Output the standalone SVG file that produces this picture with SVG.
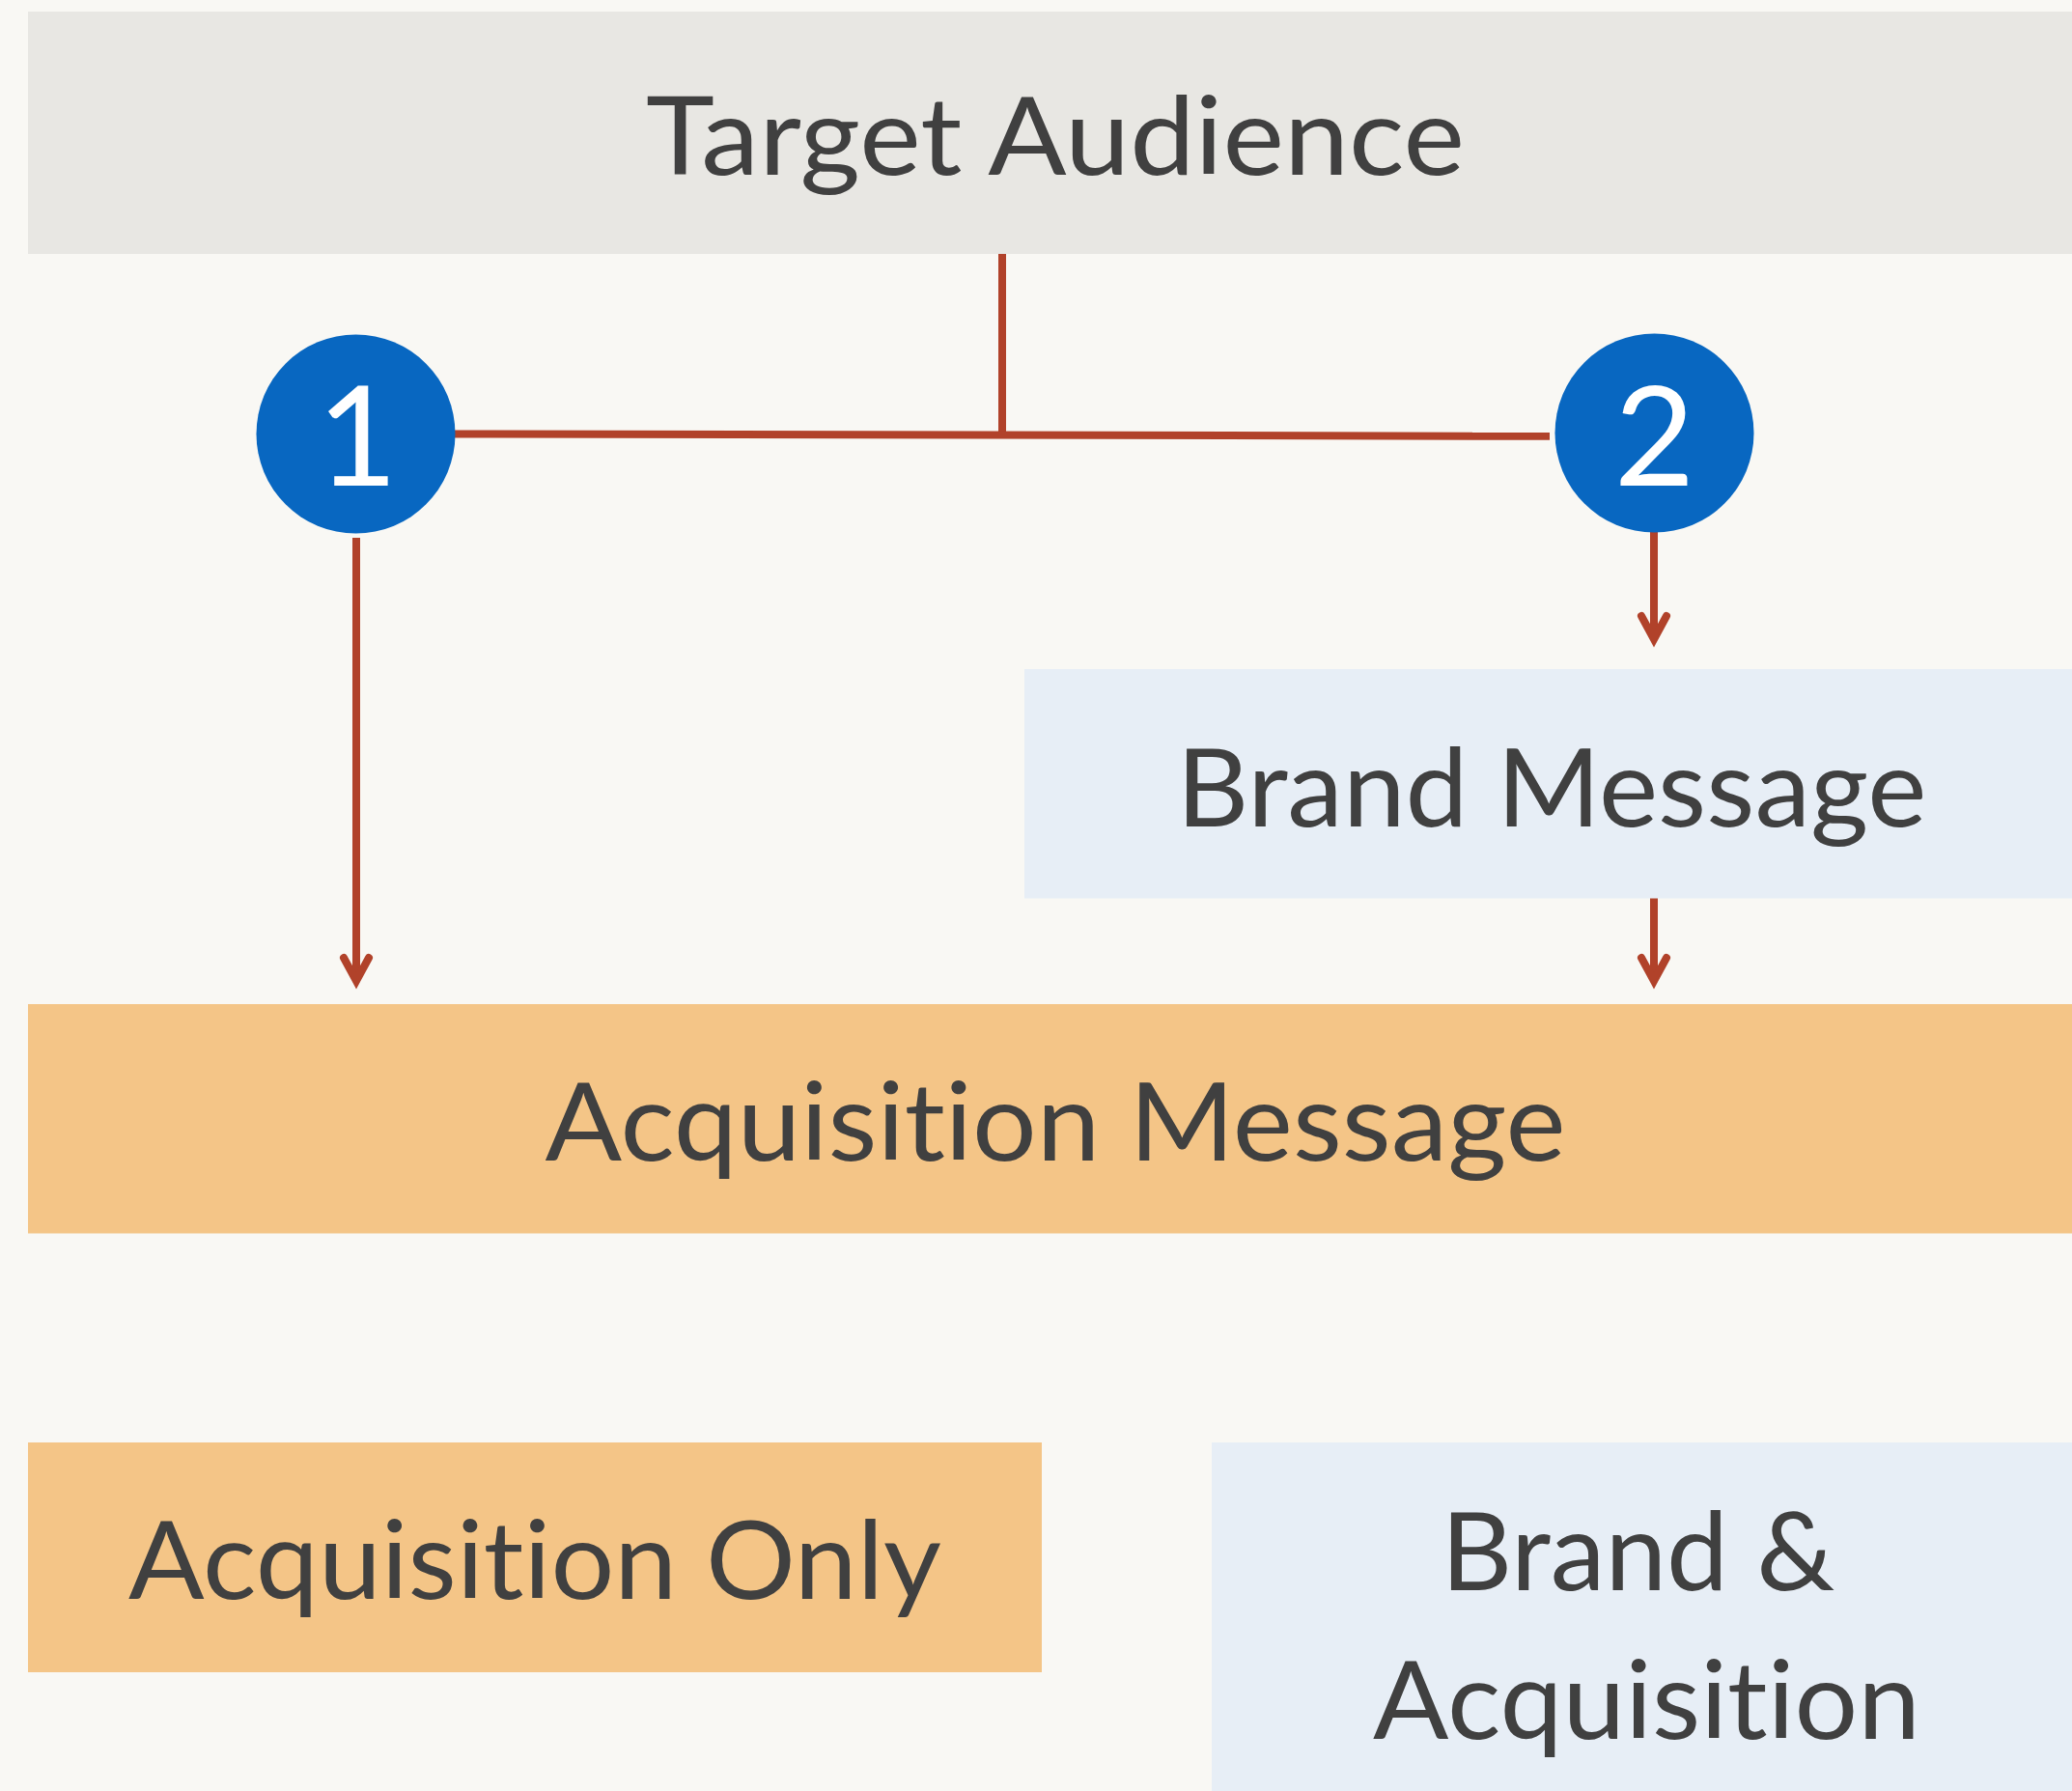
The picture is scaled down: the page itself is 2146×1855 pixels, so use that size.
<svg xmlns="http://www.w3.org/2000/svg" width="2146" height="1855" viewBox="0 0 2146 1855">
  <defs>
    <style>
      .label { font-family: Lato, "Open Sans", "Liberation Sans", sans-serif; font-size: 113px; fill: #404040; text-anchor: middle; font-variant-ligatures: none; font-feature-settings: "liga" 0, "clig" 0; }
      .num { font-family: Lato, "Open Sans", "Liberation Sans", sans-serif; font-size: 144px; fill: #FFFFFF; text-anchor: middle; }
      .grey { fill: #E8E7E3; }
      .blue { fill: #E7EEF6; }
      .orange { fill: #F4C587; }
      .badge { fill: #0867C1; }
      .wire { stroke: #B1422A; stroke-width: 8; fill: none; }
      .arrow { stroke: #B1422A; stroke-width: 8; fill: none; marker-end: url(#head); }
    </style>
    <!-- open V arrowhead with rounded wing ends and a sharp point -->
    <marker id="head" markerUnits="userSpaceOnUse" orient="auto" refX="0" refY="0" markerWidth="40" markerHeight="40" overflow="visible">
      <path d="M -22,-13 L 2,0 L -22,13" fill="none" stroke="#B1422A" stroke-width="8" stroke-linecap="round" stroke-linejoin="miter" stroke-miterlimit="10"/>
    </marker>
  </defs>

  <!-- page -->
  <rect x="0" y="0" width="2146" height="1855" fill="#F9F8F4"/>

  <!-- connectors -->
  <g id="connectors">
    <line class="wire" x1="1038" y1="263" x2="1038" y2="450"/>
    <line class="wire" x1="471" y1="449.5" x2="1605" y2="451.8"/>
    <line class="arrow" x1="369" y1="557" x2="369" y2="1014"/>
    <line class="arrow" x1="1713" y1="551" x2="1713" y2="660"/>
    <line class="arrow" x1="1713" y1="930" x2="1713" y2="1014"/>
  </g>

  <!-- nodes -->
  <g id="target-audience">
    <rect class="grey" x="29" y="12" width="2130" height="251"/>
    <text class="label" x="1093" y="181" textLength="848" lengthAdjust="spacingAndGlyphs">Target Audience</text>
  </g>

  <g id="step-1">
    <circle class="badge" cx="368.5" cy="449.5" r="103"/>
    <text class="num" x="370" y="503">1</text>
  </g>

  <g id="step-2">
    <circle class="badge" cx="1713.5" cy="448.5" r="103"/>
    <text class="num" x="1713.5" y="503">2</text>
  </g>

  <g id="brand-message">
    <rect class="blue" x="1061" y="693" width="1090" height="237.5"/>
    <text class="label" x="1607" y="856" textLength="777" lengthAdjust="spacingAndGlyphs">Brand Message</text>
  </g>

  <g id="acquisition-message">
    <rect class="orange" x="29" y="1040" width="2130" height="237.5"/>
    <text class="label" x="1093" y="1202" textLength="1057" lengthAdjust="spacingAndGlyphs">Acquisition Message</text>
  </g>

  <g id="acquisition-only">
    <rect class="orange" x="29" y="1494" width="1050" height="238"/>
    <text class="label" x="554" y="1656" textLength="842" lengthAdjust="spacingAndGlyphs">Acquisition Only</text>
  </g>

  <g id="brand-and-acquisition">
    <rect class="blue" x="1255" y="1494" width="900" height="370"/>
    <text class="label">
      <tspan x="1711" y="1647" textLength="408" lengthAdjust="spacingAndGlyphs">Brand &amp;</tspan>
      <tspan x="1705.5" y="1801" textLength="567" lengthAdjust="spacingAndGlyphs">Acquisition</tspan>
    </text>
  </g>
</svg>
